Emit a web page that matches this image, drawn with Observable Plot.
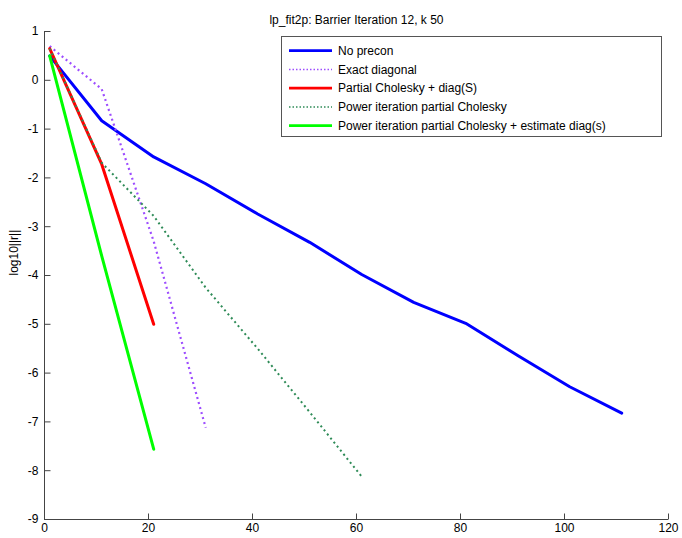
<!DOCTYPE html>
<html>
<head>
<meta charset="utf-8">
<script src="https://cdn.jsdelivr.net/npm/d3@7"></script>
<script src="https://cdn.jsdelivr.net/npm/@observablehq/plot@0.6"></script>
<style>
  html, body { margin: 0; padding: 0; background: #fff; }
  #chart { position: relative; width: 682px; height: 538px; }
  svg { font-family: "Liberation Sans", Arial, Helvetica, sans-serif; }
</style>
</head>
<body>
<div id="chart"></div>
<script>
// Residual history (log10 of residual norm) sampled every 10 CG iterations
const iterations = [1, 11, 21, 31, 41, 51, 61, 71, 81, 91, 101, 111];
const noPrecon = [0.5, -0.83, -1.57, -2.12, -2.74, -3.32, -3.98, -4.55, -4.98, -5.64, -6.28, -6.82];
const exactDiagonal = [0.7, -0.18, -3.3, -7.12];
const partialCholeskyDiagS = [0.65, -1.72, -5.0];
const powerPartialCholesky = [0.65, -1.69, -2.78, -4.25, -5.5, -6.8, -8.12];
const powerPartialCholeskyEstDiag = [0.5, -3.6, -7.56];

const seriesNames = [
  "No precon",
  "Exact diagonal",
  "Partial Cholesky + diag(S)",
  "Power iteration partial Cholesky",
  "Power iteration partial Cholesky + estimate diag(s)"
];
const xTicks = [0, 20, 40, 60, 80, 100, 120];
const yTicks = [1, 0, -1, -2, -3, -4, -5, -6, -7, -8, -9];
const titleText = "lp_fit2p: Barrier Iteration 12, k 50";
const yLabel = "log10||r||";

// Line styles per series (color, width, dash)
const styles = [
  {stroke: "#0000ff", width: 3, dash: null},
  {stroke: "#9d4dff", width: 2.2, dash: "2,3.2"},
  {stroke: "#ff0000", width: 3, dash: null},
  {stroke: "#2e8b57", width: 2, dash: "2,3.2"},
  {stroke: "#00ff00", width: 3, dash: null}
];

const allSeries = [noPrecon, exactDiagonal, partialCholeskyDiagS, powerPartialCholesky, powerPartialCholeskyEstDiag];
const seriesRows = allSeries.map(vals => vals.map((v, i) => ({iter: iterations[i], value: v})));

const axisColor = "#444";

// Inward tick glyphs for the left (pointing right) and bottom (pointing up) axes
const tickLen = 6;
const tickRight = {draw(context) { context.moveTo(0, 0); context.lineTo(tickLen, 0); }};
const tickUp = {draw(context) { context.moveTo(0, 0); context.lineTo(0, -tickLen); }};

const lineMarks = seriesRows.map((rows, k) => Plot.line(rows, {
  x: "iter", y: "value",
  stroke: styles[k].stroke,
  strokeWidth: styles[k].width,
  strokeDasharray: styles[k].dash,
  strokeLinecap: styles[k].dash ? "butt" : "round",
  strokeLinejoin: "round"
}));

const plot = Plot.plot({
  width: 682,
  height: 538,
  marginLeft: 44,
  marginRight: 14,
  marginTop: 31,
  marginBottom: 19,
  style: {fontSize: "12px", fontFamily: "'Liberation Sans', Arial, sans-serif", color: "#000", background: "#fff"},
  x: {domain: [0, 120], label: null},
  y: {domain: [-9, 1], label: null},
  marks: [
    Plot.ruleX([0], {stroke: axisColor, strokeWidth: 1}),
    Plot.ruleY([-9], {stroke: axisColor, strokeWidth: 1}),
    Plot.dot(yTicks, {x: 0, y: d => d, symbol: tickRight, r: 3, fill: "none", stroke: axisColor, strokeWidth: 1}),
    Plot.dot(xTicks, {x: d => d, y: -9, symbol: tickUp, r: 3, fill: "none", stroke: axisColor, strokeWidth: 1}),
    Plot.axisX({ticks: xTicks, tickSize: 0, tickPadding: 4, tickFormat: d => String(d), label: null, fill: "#000"}),
    Plot.axisY({ticks: yTicks, tickSize: 0, tickPadding: 6, tickFormat: d => String(d), label: null, fill: "#000"}),
    ...lineMarks,
    Plot.text([titleText], {frameAnchor: "top", dy: -16, text: d => d, fontSize: 12, fill: "#000"}),
    Plot.text([yLabel], {frameAnchor: "left", dx: -30, rotate: -90, text: d => d, fontSize: 12, fill: "#000"})
  ]
});

document.getElementById("chart").appendChild(plot);

const svg = d3.select(plot);

// Legend box in the upper right of the axes
const legend = svg.append("g").attr("transform", "translate(281,36)").attr("text-anchor", "start");
const rowGap = 18.75;
legend.append("rect")
  .attr("x", 0.5).attr("y", 0.5)
  .attr("width", 380).attr("height", 100)
  .attr("fill", "#fff").attr("stroke", "#555").attr("stroke-width", 1);
seriesNames.forEach((name, k) => {
  const yy = 14.7 + k * rowGap;
  legend.append("line")
    .attr("x1", 8).attr("x2", 51).attr("y1", yy).attr("y2", yy)
    .attr("stroke", styles[k].stroke)
    .attr("stroke-width", styles[k].dash ? 1.5 : 2.7)
    .attr("stroke-dasharray", styles[k].dash ? "1.5,2" : null);
  legend.append("text")
    .attr("x", 57).attr("y", yy)
    .attr("dy", "0.35em")
    .attr("font-size", 12)
    .attr("fill", "#000")
    .attr("text-anchor", "start")
    .text(name);
});
</script>
</body>
</html>
